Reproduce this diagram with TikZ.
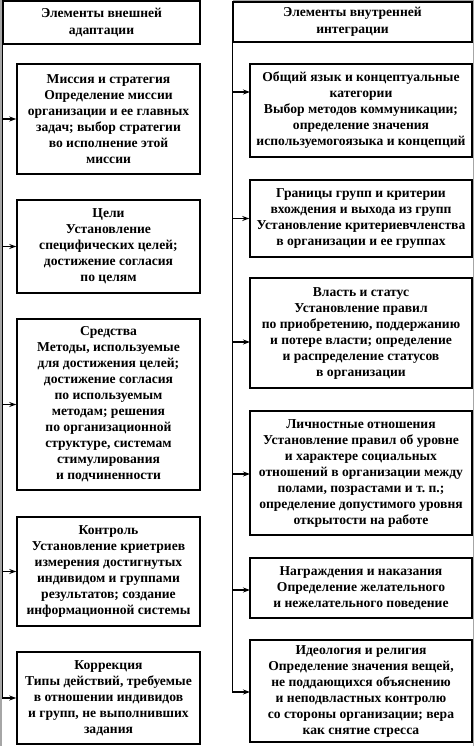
\documentclass[tikz,border=0pt]{standalone}
\usepackage{fontspec}
\setmainfont{Liberation Serif}
\usetikzlibrary{arrows.meta}
\begin{document}
\begin{tikzpicture}[x=1pt,y=-1pt,
  box/.style={draw, line width=1.5pt, align=center, inner sep=0pt,
    font=\fontsize{13.6}{16}\selectfont\bfseries},
  head/.style={draw, line width=1.5pt, align=center, inner sep=0pt,
    font=\fontsize{13.6}{17}\selectfont\bfseries},
  arr/.style={line width=1.2pt, -{Stealth[length=7pt,width=5pt]}},
  trunk/.style={line width=1.2pt},
  scan/.style={fill=black!35}]
\useasboundingbox (0,0) rectangle (474,746);
\fill[white] (0,0) rectangle (474,746);
% scan edges
\fill[scan] (0,0) rectangle (2.3,746);
\fill[scan] (233,0) rectangle (474,1.3);
\fill[scan] (473,0) rectangle (474,746);
% headers
\node[head, minimum width=197pt, minimum height=43pt] (hl) at (101.5,22.5)
  {Элементы внешней\\адаптации};
\node[head, minimum width=239pt, minimum height=40pt] (hr) at (352.5,22)
  {Элементы внутренней\\интеграции};
% left boxes
\node[box, minimum width=183pt, minimum height=110pt] (L1) at (108.5,119)
  {Миссия и стратегия\\Определение миссии\\организации и ее главных\\задач; выбор стратегии\\во исполнение этой\\миссии};
\node[box, minimum width=183pt, minimum height=93pt] (L2) at (108.5,246.5)
  {Цели\\Установление\\специфических целей;\\достижение согласия\\по целям};
\node[box, minimum width=183pt, minimum height=171pt] (L3) at (108.5,404.5)
  {Средства\\Методы, используемые\\для достижения целей;\\достижение согласия\\по используемым\\методам; решения\\по организационной\\структуре, системам\\стимулирования\\и подчиненности};
\node[box, minimum width=183pt, minimum height=109pt] (L4) at (108.5,571.5)
  {Контроль\\Установление криетриев\\измерения достигнутых\\индивидом и группами\\результатов; создание\\информационной системы};
\node[box, minimum width=183pt, minimum height=92pt] (L5) at (108.5,698)
  {Коррекция\\Типы действий, требуемые\\в отношении индивидов\\и групп, не выполнивших\\задания};
% right boxes
\node[box, minimum width=222pt, minimum height=93pt] (R1) at (361,110.5)
  {Общий язык и концептуальные\\категории\\Выбор методов коммуникации;\\определение значения\\используемогоязыка и концепций};
\node[box, minimum width=222pt, minimum height=77pt] (R2) at (361,218.5)
  {Границы групп и критерии\\вхождения и выхода из групп\\Установление критериевчленства\\в организации и ее группах};
\node[box, minimum width=222pt, minimum height=110pt] (R3) at (361,333)
  {Власть и статус\\Установление правил\\по приобретению, поддержанию\\и потере власти; определение\\и распределение статусов\\в организации};
\node[box, minimum width=222pt, minimum height=124pt] (R4) at (361,473)
  {Личностные отношения\\Установление правил об уровне\\и характере социальных\\отношений в организации между\\полами, позрастами и т.~п.;\\определение допустимого уровня\\открытости на работе};
\node[box, minimum width=222pt, minimum height=60pt] (R5) at (361,588)
  {Награждения и наказания\\Определение желательного\\и нежелательного поведение};
\node[box, minimum width=222pt, minimum height=102pt] (R6) at (361,691)
  {Идеология и религия\\Определение значения вещей,\\не поддающихся объяснению\\и неподвластных контролю\\со стороны организации; вера\\как снятие стресса};
% arrow targets on right
\coordinate (aR1) at (250,92);
\coordinate (aR3) at (250,342);
\coordinate (aR4) at (250,474);
\coordinate (aR5) at (250,590);
\coordinate (aR6) at (250,692);
% left trunk and arrows
\draw[trunk] (hl.south west) -- (hl.south west |- L5.west);
\foreach \b in {L1,L2,L3,L4,L5}
  \draw[arr] (hl.south west |- \b.west) -- (\b.west);
% right trunk and arrows
\draw[trunk] (hr.south west) -- (hr.south west |- aR6);
\draw[arr] (hr.south west |- aR1) -- (aR1);
\draw[arr] (hr.south west |- R2.west) -- (R2.west);
\draw[arr] (hr.south west |- aR3) -- (aR3);
\draw[arr] (hr.south west |- aR4) -- (aR4);
\draw[arr] (hr.south west |- aR5) -- (aR5);
\draw[arr] (hr.south west |- aR6) -- (aR6);
\end{tikzpicture}
\end{document}
